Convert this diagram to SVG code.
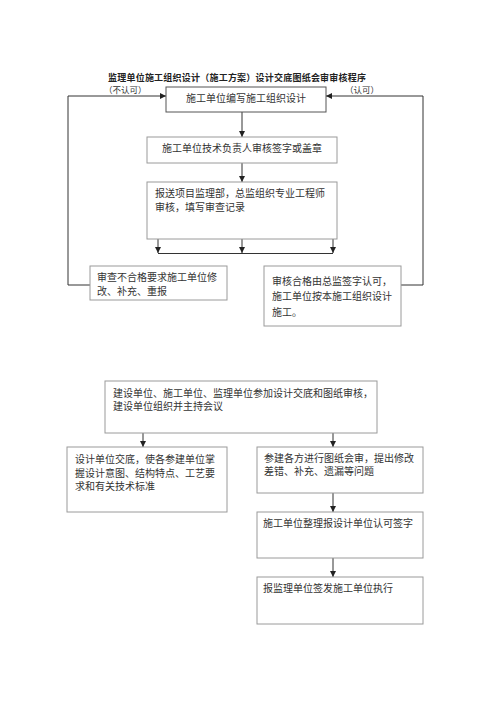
<svg xmlns="http://www.w3.org/2000/svg" width="500" height="707" viewBox="0 0 500 707">
<style>
.t{font-family:"Liberation Sans","Noto Sans CJK SC",sans-serif;font-size:10px;fill:#333}
.s{font-size:8.5px}
.title{font-family:"Liberation Sans","Noto Sans CJK SC",sans-serif;font-size:9px;font-weight:bold;fill:#222}
.b{fill:#fff;stroke:#9a9a9a;stroke-width:1}
.bd{fill:#fff;stroke:#555;stroke-width:1}
.c{fill:none;stroke:#333;stroke-width:1}
</style>
<defs>
<marker id="ah" viewBox="0 0 10 10" refX="10" refY="5" markerWidth="6" markerHeight="6" markerUnits="userSpaceOnUse" orient="auto">
<path d="M0,0 L10,5 L0,10 z" fill="#222"/>
</marker>
</defs>
<rect width="500" height="707" fill="#fff"/>
<text class="title" x="108" y="80.5" textLength="258">监理单位施工组织设计（施工方案）设计交底图纸会审审核程序</text>
<text class="t s" x="104" y="92.5">（不认可）</text>
<text class="t s" x="345" y="92.5">（认可）</text>
<g id="connectors">
<path class="c" d="M90,285 H68 V96 H166" marker-end="url(#ah)"/>
<path class="c" d="M401,285 H423 V96 H326" marker-end="url(#ah)"/>
<path class="c" d="M242,112 V137" marker-end="url(#ah)"/>
<path class="c" d="M242,163 V182" marker-end="url(#ah)"/>
<path class="c" d="M158,239 V253" marker-end="url(#ah)"/>
<path class="c" d="M242,239 V253" marker-end="url(#ah)"/>
<path class="c" d="M333,239 V253" marker-end="url(#ah)"/>
<path class="c" d="M158,253.5 H333"/>
<path class="c" d="M143,433 V447" marker-end="url(#ah)"/>
<path class="c" d="M333,433 V447" marker-end="url(#ah)"/>
<path class="c" d="M333,493 V512" marker-end="url(#ah)"/>
<path class="c" d="M333,558 V577" marker-end="url(#ah)"/>
</g>
<g id="n1">
<rect class="bd" x="166" y="87" width="160" height="25"/>
<text class="t" x="246" y="101.5" text-anchor="middle">施工单位编写施工组织设计</text>
</g>
<g id="n2">
<rect class="b" x="147" y="137" width="190" height="26"/>
<text class="t" x="242" y="152" text-anchor="middle">施工单位技术负责人审核签字或盖章</text>
</g>
<g id="n3">
<rect class="b" x="147" y="182" width="190" height="57"/>
<text class="t" x="155" y="196.5">报送项目监理部，总监组织专业工程师</text>
<text class="t" x="155" y="210.5">审核，填写审查记录</text>
</g>
<g id="n4">
<rect class="b" x="90" y="266" width="137" height="34"/>
<text class="t" x="97" y="280.5">审查不合格要求施工单位修</text>
<text class="t" x="97" y="294.5">改、补充、重报</text>
</g>
<g id="n5">
<rect class="b" x="264" y="266" width="137" height="60"/>
<text class="t" x="272" y="284.5">审核合格由总监签字认可，</text>
<text class="t" x="272" y="300">施工单位按本施工组织设计</text>
<text class="t" x="272" y="315.5">施工。</text>
</g>
<g id="n6">
<rect class="b" x="105" y="381" width="272" height="52"/>
<text class="t" x="113" y="396.5">建设单位、施工单位、监理单位参加设计交底和图纸审核，</text>
<text class="t" x="113" y="409.5">建设单位组织并主持会议</text>
</g>
<g id="n7">
<rect class="b" x="67" y="447" width="160" height="65"/>
<text class="t" x="75" y="462.5">设计单位交底，使各参建单位掌</text>
<text class="t" x="75" y="476.5">握设计意图、结构特点、工艺要</text>
<text class="t" x="75" y="490">求和有关技术标准</text>
</g>
<g id="n8">
<rect class="b" x="257" y="447" width="166" height="46"/>
<text class="t" x="264" y="461.5">参建各方进行图纸会审，提出修改</text>
<text class="t" x="264" y="474.5">差错、补充、遗漏等问题</text>
</g>
<g id="n9">
<rect class="b" x="257" y="512" width="166" height="46"/>
<text class="t" x="263" y="527">施工单位整理报设计单位认可签字</text>
</g>
<g id="n10">
<rect class="b" x="257" y="577" width="166" height="47"/>
<text class="t" x="263" y="592">报监理单位签发施工单位执行</text>
</g>
</svg>
